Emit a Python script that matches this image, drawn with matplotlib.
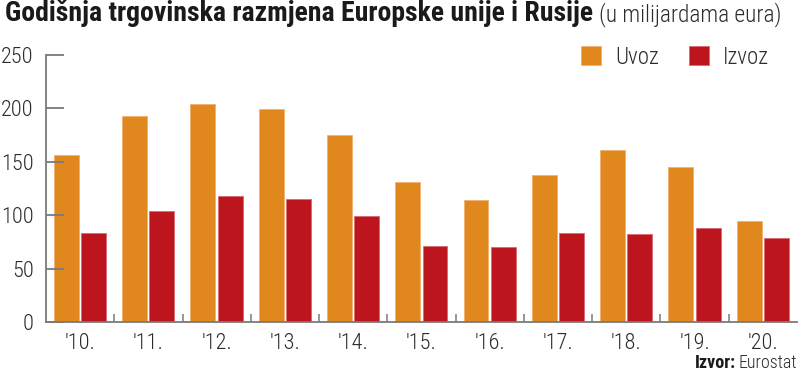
import matplotlib
matplotlib.use('Agg')
import matplotlib.pyplot as plt
import numpy as np

# data (billions of euro)
years = ["'10.", "'11.", "'12.", "'13.", "'14.", "'15.", "'16.", "'17.", "'18.", "'19.", "'20."]
uvoz = [156, 193, 204, 199, 175, 131, 114, 138, 161, 145, 95]
izvoz = [83, 104, 118, 115, 99, 71, 70, 83, 82, 88, 79]
yticks = [0, 50, 100, 150, 200, 250]

orange = '#E0881E'
red = '#BC151E'
grey = '#7a7a7a'
txt = '#2b2b2b'

plt.rcParams['font.family'] = ['Roboto Condensed', 'DejaVu Sans']
plt.rcParams['font.weight'] = 'light'

W, H = 800, 373
fig = plt.figure(figsize=(W / 100, H / 100), dpi=100)
ax = fig.add_axes([46 / W, 1 - 322 / H, (797 - 46) / W, (322 - 55) / H])

x = np.arange(len(years))
w = 0.365
ax.bar(x - 0.202, uvoz, w, color=orange, edgecolor='#f0b070', linewidth=0.6, label='Uvoz')
ax.bar(x + 0.198, izvoz, w, color=red, edgecolor='#d86a70', linewidth=0.6, label='Izvoz')

ax.set_xlim(-0.5, len(years) - 0.5)
ax.set_ylim(0, 250)

for s in ['top', 'right']:
    ax.spines[s].set_visible(False)
ax.spines['left'].set_color(grey)
ax.spines['left'].set_linewidth(1.3)
ax.spines['bottom'].set_color(grey)
ax.spines['bottom'].set_linewidth(1.3)

ax.set_yticks(yticks)
ax.set_yticklabels([str(v) for v in yticks])
ax.tick_params(axis='y', direction='in', length=13, width=1.3, color=grey,
               pad=9, labelsize=16, labelcolor=txt)

ax.set_xticks(x)
ax.set_xticklabels(years)
ax.tick_params(axis='x', which='major', length=0, pad=8, labelsize=16, labelcolor=txt)
ax.set_xticks(np.arange(len(years) - 1) + 0.5, minor=True)
ax.tick_params(axis='x', which='minor', direction='in', length=6, width=1.1, color=grey)

# legend
fig.legend(loc='center right', bbox_to_anchor=(769 / W, 1 - 57 / H), ncol=2, frameon=False,
           fontsize=16.5, handlelength=0.9, handleheight=0.9, handletextpad=0.6,
           columnspacing=1.3, labelcolor=txt, borderpad=0, borderaxespad=0)

# title
fig.canvas.draw()
r = fig.canvas.get_renderer()
t1 = fig.text(5 / W, 1 - 21 / H, 'Godišnja trgovinska razmjena Europske unije i Rusije',
              fontsize=20, fontweight='bold', color='#1a1a1a', va='baseline')
bb = t1.get_window_extent(r)
fig.text((bb.x1 + 6) / W, 1 - 21 / H, '(u milijardama eura)', fontsize=16.8,
         color=txt, va='baseline')

# source
t3 = fig.text(797 / W, 1 - 368 / H, 'Eurostat', fontsize=13, color=txt,
              ha='right', va='baseline')
bb3 = t3.get_window_extent(r)
fig.text((bb3.x0 - 3) / W, 1 - 368 / H, 'Izvor:', fontsize=13, fontweight='bold',
         color='#1a1a1a', ha='right', va='baseline')

fig.savefig('out.png', dpi=100)
